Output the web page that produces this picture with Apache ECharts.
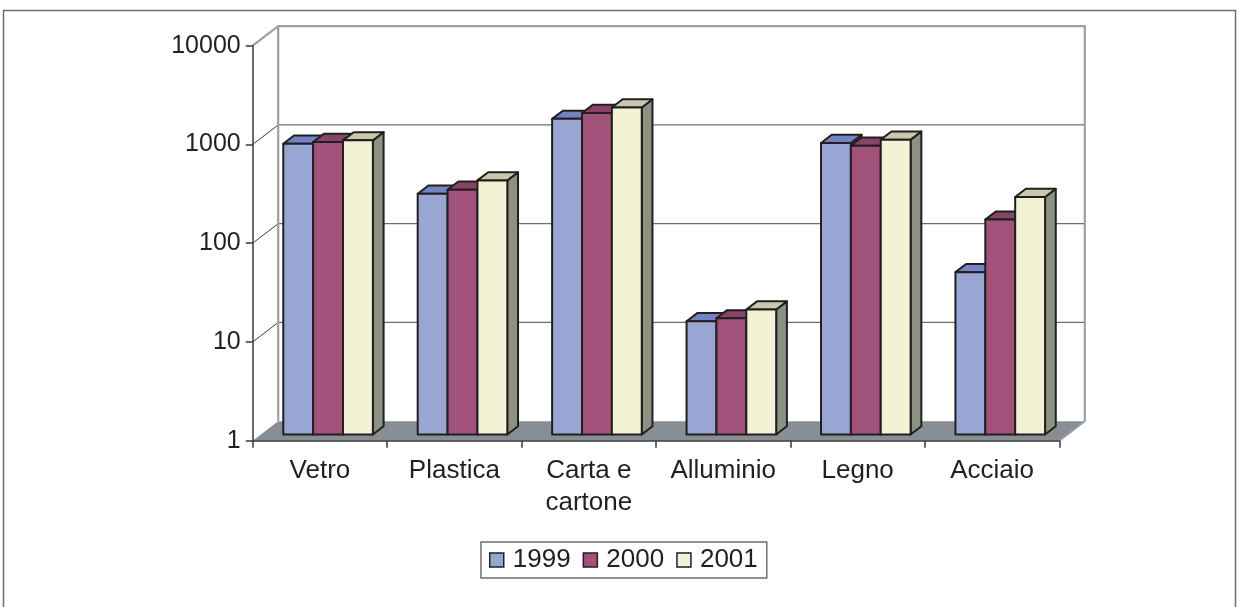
<!DOCTYPE html>
<html>
<head>
<meta charset="utf-8">
<script src="https://cdn.jsdelivr.net/npm/echarts@6/dist/echarts.min.js"></script>
<style>
  html, body { margin: 0; padding: 0; background: #ffffff; }
  #chart { width: 1239px; height: 607px; }
</style>
</head>
<body>
<div id="chart"></div>
<script>
// Categories and yearly values (log scale)
var categories = ['Vetro', 'Plastica', 'Carta e\ncartone', 'Alluminio', 'Legno', 'Acciaio'];
var years = ['1999', '2000', '2001'];
var values1999 = [880, 274, 1570, 14, 896, 44];
var values2000 = [917, 301, 1800, 15, 841, 150];
var values2001 = [951, 374, 2050, 18.4, 967, 254];
var yTicks = [1, 10, 100, 1000, 10000];

// Oblique projection of the depth axis (pixels for the full depth)
var DX = 25.5, DY = -19.5;
// Bars occupy this slice of the depth
var D0 = 0.32, D1 = 0.74;

var palette = [
  { front: '#99a5d3', top: '#7483c4', side: '#6f7aa8' },
  { front: '#a0527a', top: '#884466', side: '#7a3e5c' },
  { front: '#f4f2d5', top: '#c9c9ae', side: '#8b9282' }
];
var INK = '#231f20';
var FONT = '"Liberation Sans", Arial, sans-serif';

function sceneItem(params, api) {
  var cs = params.coordSys;
  var x0 = cs.x, x1 = cs.x + cs.width;
  var yb = api.coord([0, yTicks[0]])[1];
  var yt = api.coord([0, yTicks[yTicks.length - 1]])[1];
  var children = [];
  // floor
  children.push({
    type: 'polygon',
    shape: { points: [[x0, yb], [x1, yb], [x1 + DX, yb + DY], [x0 + DX, yb + DY]] },
    style: { fill: '#878f94', stroke: null }
  });
  children.push({
    type: 'line',
    shape: { x1: x1, y1: yb, x2: x1 + DX, y2: yb + DY },
    style: { stroke: '#9aa0a5', lineWidth: 2 }
  });
  // back wall gridlines and left wall diagonals
  for (var i = 1; i < yTicks.length - 1; i++) {
    var y = api.coord([0, yTicks[i]])[1];
    children.push({
      type: 'line',
      shape: { x1: x0 + DX, y1: y + DY, x2: x1 + DX, y2: y + DY },
      style: { stroke: '#6b6e71', lineWidth: 1.2 }
    });
    children.push({
      type: 'line',
      shape: { x1: x0, y1: y, x2: x0 + DX, y2: y + DY },
      style: { stroke: '#3c3c3e', lineWidth: 1 }
    });
  }
  // wall edges
  children.push({
    type: 'polyline',
    shape: { points: [[x0, yt], [x0 + DX, yt + DY], [x1 + DX, yt + DY], [x1 + DX, yb + DY]] },
    style: { stroke: '#9aa0a5', lineWidth: 2.2, fill: null }
  });
  children.push({
    type: 'line',
    shape: { x1: x0 + DX, y1: yt + DY, x2: x0 + DX, y2: yb + DY },
    style: { stroke: '#9aa0a5', lineWidth: 2.2 }
  });
  return { type: 'group', children: children };
}

function barRenderer(seriesIdx) {
  var c = palette[seriesIdx];
  return function (params, api) {
    var cat = api.value(0);
    var val = api.value(1);
    var band = api.size([1, 0])[0];
    var bw = band / 4.5;
    var center = api.coord([cat, yTicks[0]]);
    var topPt = api.coord([cat, val]);
    var L = center[0] - 1.5 * bw + seriesIdx * bw + D0 * DX;
    var R = L + bw;
    var B = center[1] + D0 * DY;
    var T = topPt[1] + D0 * DY;
    var ddx = (D1 - D0) * DX, ddy = (D1 - D0) * DY;
    var stroke = { stroke: INK, lineWidth: 2, lineJoin: 'round' };
    return {
      type: 'group',
      children: [
        { type: 'polygon', shape: { points: [[R, T], [R + ddx, T + ddy], [R + ddx, B + ddy], [R, B]] },
          style: Object.assign({ fill: c.side }, stroke) },
        { type: 'polygon', shape: { points: [[L, T], [R, T], [R + ddx, T + ddy], [L + ddx, T + ddy]] },
          style: Object.assign({ fill: c.top }, stroke) },
        { type: 'rect', shape: { x: L, y: T, width: bw, height: B - T },
          style: Object.assign({ fill: c.front }, stroke) }
      ]
    };
  };
}

function toPairs(arr) {
  return arr.map(function (v, i) { return [i, v]; });
}

var seriesValues = [values1999, values2000, values2001];
var series = [{
  name: 'scene',
  type: 'custom',
  z: 1,
  silent: true,
  renderItem: sceneItem,
  data: [[0, 1]],
  encode: { x: 0, y: 1 }
}];
years.forEach(function (yr, i) {
  series.push({
    name: yr,
    type: 'custom',
    z: 2 + i,
    renderItem: barRenderer(i),
    itemStyle: { color: palette[i].front, borderColor: INK, borderWidth: 1.5 },
    data: toPairs(seriesValues[i]),
    encode: { x: 0, y: 1 }
  });
});

var chart = echarts.init(document.getElementById('chart'), null, { renderer: 'canvas' });
chart.setOption({
  animation: false,
  backgroundColor: '#ffffff',
  textStyle: { fontFamily: FONT },
  graphic: [{
    type: 'rect',
    shape: { x: 3.5, y: 10.5, width: 1232, height: 620 },
    style: { fill: null, stroke: '#6d6e71', lineWidth: 1.5 },
    silent: true
  }],
  grid: { left: 252.7, top: 45.7, width: 806.6, height: 395, containLabel: false },
  xAxis: {
    type: 'category',
    data: categories,
    z: 6,
    boundaryGap: true,
    axisLine: { lineStyle: { color: '#3a3a3c', width: 1.5 } },
    axisTick: { show: true, length: 7, lineStyle: { color: '#3a3a3c', width: 1.5 } },
    axisLabel: { color: INK, fontFamily: FONT, fontSize: 26, lineHeight: 32, margin: 14, interval: 0 },
    splitLine: { show: false }
  },
  yAxis: {
    type: 'log',
    logBase: 10,
    min: 1,
    max: 10000,
    z: 6,
    axisLine: { show: true, lineStyle: { color: '#3a3a3c', width: 1.5 } },
    axisTick: { show: true, length: 7, lineStyle: { color: '#3a3a3c', width: 1.5 } },
    axisLabel: {
      color: INK, fontFamily: FONT, fontSize: 25, margin: 12,
      formatter: function (v) { return String(Math.round(v)); }
    },
    splitLine: { show: false }
  },
  legend: {
    data: years,
    left: 481,
    top: 542,
    orient: 'horizontal',
    icon: 'rect',
    itemWidth: 14,
    itemHeight: 14,
    itemGap: 12,
    padding: [5, 9, 5, 8],
    borderColor: '#6d6e71',
    borderWidth: 1.5,
    itemStyle: { borderColor: INK, borderWidth: 1.5 },
    textStyle: { color: INK, fontFamily: FONT, fontSize: 26, lineHeight: 26, padding: [0, 0, 0, 4] }
  },
  series: series
});
</script>
</body>
</html>
